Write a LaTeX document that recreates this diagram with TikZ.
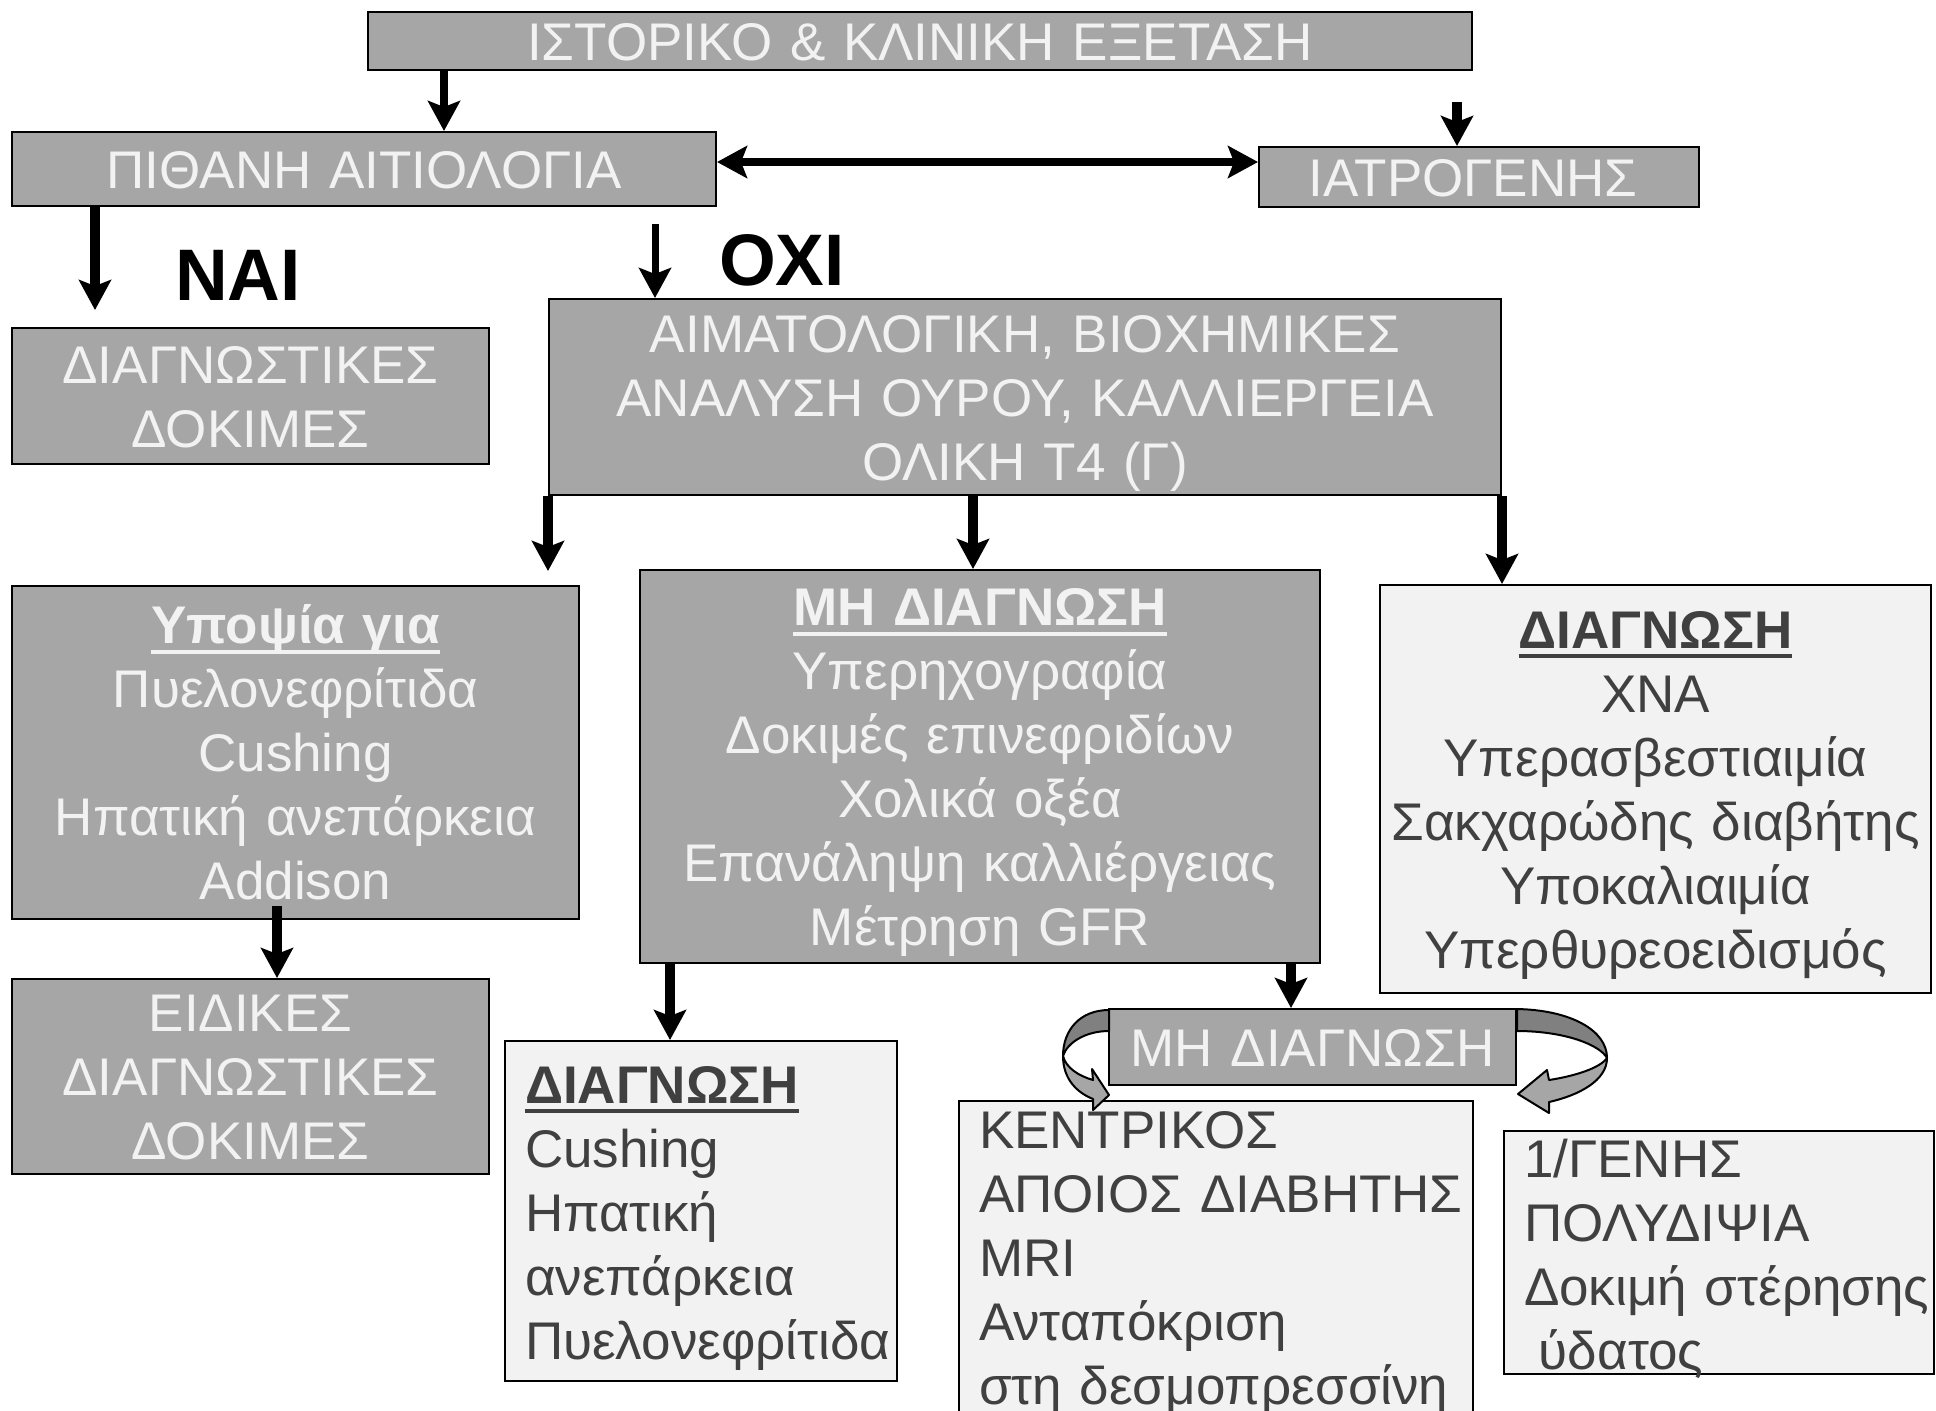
\documentclass[tikz,border=0pt]{standalone}
\usepackage{fontspec}
\setmainfont{Liberation Sans}
\usetikzlibrary{arrows.meta}
\definecolor{boxgray}{HTML}{A6A6A6}
\definecolor{boxpale}{HTML}{F2F2F2}
\definecolor{inkpale}{HTML}{F2F2F2}
\definecolor{inkdark}{HTML}{404040}
\definecolor{bandgray}{HTML}{808080}
\hyphenpenalty=10000 \exhyphenpenalty=10000
\newcommand{\undl}[1]{\setbox0\hbox{#1}\rlap{\rule[-5pt]{\wd0}{2pt}}\box0}
\tikzset{greybox/.style={draw=black,line width=1pt,fill=boxgray,text=inkpale,inner sep=0pt,align=center,font=\fontsize{26.5}{32}\selectfont},palebox/.style={greybox,fill=boxpale,text=inkdark,align=left},boxsize/.style n args={3}{text width=#1,text height={#2/2+9.5pt-16pt*(#3-1)},text depth={#2/2-9.5pt+16pt*(#3-1)}},arr/.style={->,line width=5pt},answer/.style={font=\fontsize{36.5}{42}\selectfont\bfseries},band/.style={draw=black,line width=1pt,line join=round}}

\begin{document}
\begin{tikzpicture}[x=0.5pt,y=-0.5pt,>={Stealth[length=15pt,width=16pt,inset=3pt]}]
\useasboundingbox (0,0) rectangle (1936,1410);
% top row
\node[greybox,boxsize={552pt}{29pt}{1}] (hist) at (920,41) {ΙΣΤΟΡΙΚΟ \& ΚΛΙΝΙΚΗ ΕΞΕΤΑΣΗ};
\node[greybox,boxsize={352pt}{37pt}{1}] (pith) at (364,169) {ΠΙΘΑΝΗ ΑΙΤΙΟΛΟΓΙΑ};
\node[greybox,boxsize={220pt}{30pt}{1}] (iatr) at (1479,177) {ΙΑΤΡΟΓΕΝΗΣ\hspace*{6pt}};
\node[answer] (nai) at (238,275) {ΝΑΙ};
\node[answer] (oxi) at (782,260) {ΟΧΙ};
\node[greybox,boxsize={238.5pt}{68pt}{2}] (dtest) at (250.5,396) {ΔΙΑΓΝΩΣΤΙΚΕΣ\\ΔΟΚΙΜΕΣ};
\node[greybox,boxsize={476pt}{98pt}{3}] (aim) at (1025,397) {ΑΙΜΑΤΟΛΟΓΙΚΗ, ΒΙΟΧΗΜΙΚΕΣ\\ΑΝΑΛΥΣΗ ΟΥΡΟΥ, ΚΑΛΛΙΕΡΓΕΙΑ\\ΟΛΙΚΗ T4 (Γ)};
% middle row
\node[greybox,boxsize={283.5pt}{166.5pt}{5}] (ypo) at (295.5,752.5) {\undl{\textbf{Υποψία για}}\\Πυελονεφρίτιδα\\Cushing\\Ηπατική ανεπάρκεια\\Addison};
\node[greybox,boxsize={340pt}{196.5pt}{6}] (mhd) at (980,766.5) {\undl{\textbf{ΜΗ ΔΙΑΓΝΩΣΗ}}\\Υπερηχογραφία\\Δοκιμές επινεφριδίων\\Χολικά οξέα\\Επανάληψη καλλιέργειας\\Μέτρηση GFR};
\node[palebox,align=center,boxsize={275.5pt}{204pt}{6}] (diagr) at (1655.5,789) {\undl{\textbf{ΔΙΑΓΝΩΣΗ}}\\ΧΝΑ\\Υπερασβεστιαιμία\\Σακχαρώδης~διαβήτης\\Υποκαλιαιμία\\Υπερθυρεοειδισμός};
% bottom row
\node[greybox,boxsize={238.5pt}{97.5pt}{3}] (eid) at (250.5,1076.5) {ΕΙΔΙΚΕΣ\\ΔΙΑΓΝΩΣΤΙΚΕΣ\\ΔΟΚΙΜΕΣ};
\node[palebox,anchor=north west,inner xsep=10pt,text width=176pt,text height=31pt,text depth=139pt] (diagc) at (504,1040) {\undl{\textbf{ΔΙΑΓΝΩΣΗ}}\\Cushing\\Ηπατική\\ανεπάρκεια\\Πυελονεφρίτιδα};
\node[palebox,anchor=north west,inner xsep=10pt,text width=237pt,text height=23.5pt,text depth=139pt] (kentr) at (958,1100) {ΚΕΝΤΡΙΚΟΣ\\ΑΠΟΙΟΣ~ΔΙΑΒΗΤΗΣ\\MRI\\Ανταπόκριση\\στη~δεσμοπρεσσίνη};
\node[palebox,anchor=north west,inner xsep=10pt,text width=195pt,text height=23pt,text depth=98.5pt] (poly) at (1503,1130) {1/ΓΕΝΗΣ\\ΠΟΛΥΔΙΨΙΑ\\Δοκιμή~στέρησης\\\hspace*{0.28em}ύδατος};
\node[greybox,boxsize={203.5pt}{38pt}{1}] (mhds) at (1312.5,1047) {ΜΗ ΔΙΑΓΝΩΣΗ};
\coordinate (iatin) at (1457,102);
% arrows
\draw[arr,line width=4.3pt] (hist.south -| 444,0) -- (pith.north -| 444,0);
\draw[arr] (iatin) -- (iatr.north -| iatin);
\draw[<->,line width=4pt] (pith.east |- 0,162) -- (iatr.west |- 0,162);
\draw[arr,shorten >=8.5pt] (pith.south -| 95,0) -- (dtest.north -| 95,0);
\draw[arr,line width=3.5pt,shorten <=8.5pt] (pith.south -| 655,0) -- (aim.north -| 655,0);
\draw[arr,shorten >=7pt] (aim.south west) -- (aim.south west |- ypo.north);
\draw[arr] (aim.south -| 973,0) -- (mhd.north -| 973,0);
\draw[arr] (aim.south east) -- (aim.south east |- diagr.north);
\draw[arr,shorten <=-7pt] (ypo.south -| 277,0) -- (eid.north -| 277,0);
\draw[arr] (mhd.south -| 670,0) -- (diagc.north -| 670,0);
\draw[arr] (mhd.south -| 1291,0) -- (mhds.north -| 1291,0);
% curved arrows round the small box
\draw[band,fill=bandgray] (1109,1010) .. controls (1080,1010) and (1063,1030) .. (1063,1056) .. controls (1067,1043) and (1085,1031) .. (1109,1031) -- cycle;
\draw[band,fill=boxgray] (1063,1056) .. controls (1063,1080) and (1078,1093) .. (1093,1099) -- (1093,1110) -- (1109,1095) -- (1092,1069) -- (1093,1080) .. controls (1079,1076) and (1066,1068) .. (1063,1056) -- cycle;
\draw[band,fill=bandgray] (1517,1009) .. controls (1570,1010) and (1607,1030) .. (1607,1058) .. controls (1600,1045) and (1565,1031) .. (1517,1031) -- cycle;
\draw[band,fill=boxgray] (1607,1058) .. controls (1607,1080) and (1580,1095) .. (1549,1102) -- (1549,1113) -- (1518,1094) -- (1547,1070) -- (1549,1080) .. controls (1575,1076) and (1600,1068) .. (1607,1058) -- cycle;
\end{tikzpicture}
\end{document}
